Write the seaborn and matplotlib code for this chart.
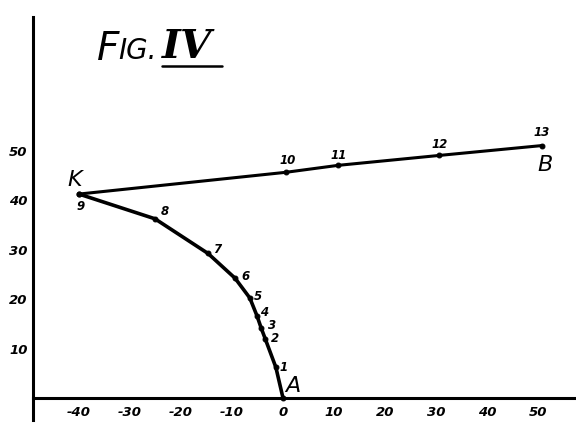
import matplotlib
matplotlib.use("Agg")
import matplotlib.pyplot as plt
import seaborn as sns
import pandas as pd

# data
curve_labels = ["A", "1", "2", "3", "4", "5", "6", "7", "8", "9"]
curve_x = [0.0, -1.4, -3.5, -4.3, -5.1, -6.5, -9.4, -14.7, -25.1, -40.0]
curve_y = [0.0, 6.2, 12.0, 14.2, 16.6, 20.2, 24.2, 29.2, 36.2, 41.2]

line_labels = ["9", "10", "11", "12", "13"]
line_x = [-40.0, 0.6, 10.8, 30.6, 50.8]
line_y = [41.2, 45.6, 47.0, 49.0, 51.0]

xticks = [-40, -30, -20, -10, 0, 10, 20, 30, 40, 50]
yticks = [10, 20, 30, 40, 50]

sns.set_theme(style="white")
plt.rcParams["font.family"] = ["DejaVu Sans"]
plt.rcParams["text.color"] = "black"
plt.rcParams["xtick.color"] = "black"
plt.rcParams["ytick.color"] = "black"

fig = plt.figure(figsize=(5.76, 4.23), dpi=100)
ax = fig.add_axes([0, 0, 1, 1])

curve = pd.DataFrame({"x": curve_x, "y": curve_y})
upper = pd.DataFrame({"x": line_x, "y": line_y})
sns.lineplot(data=curve, x="x", y="y", sort=False, color="black", lw=2.6,
             marker="o", markersize=3.5, markeredgecolor="black", ax=ax)
sns.lineplot(data=upper, x="x", y="y", sort=False, color="black", lw=2.2,
             marker="o", markersize=3.5, markeredgecolor="black", ax=ax)

ax.set_xlim(-283 / 5.1, (576 - 283) / 5.1)
ax.set_ylim(-25 / 4.95, 398 / 4.95)

for s in ["top", "right"]:
    ax.spines[s].set_visible(False)
ax.spines["left"].set_position(("data", -49))
ax.spines["left"].set_bounds(-4.4, 77)
ax.spines["bottom"].set_position(("data", 0))
ax.spines["bottom"].set_bounds(-49, 57.5)
for s in ["left", "bottom"]:
    ax.spines[s].set_linewidth(2.2)
    ax.spines[s].set_color("black")

ax.set_xticks(xticks)
ax.set_xticklabels([str(t) for t in xticks], fontstyle="italic", fontweight="bold", fontsize=9.5)
ax.set_yticks(yticks)
ax.set_yticklabels([str(t) for t in yticks], fontstyle="italic", fontweight="bold", fontsize=9.5)
ax.tick_params(axis="x", length=0, pad=6)
ax.tick_params(axis="y", length=0, pad=4)
ax.set_xlabel("")
ax.set_ylabel("")
ax.grid(False)

# point number labels (offsets in pixels)
curve_off = {"1": (8, 0), "2": (10, 0), "3": (11, 2), "4": (7, 3), "5": (8, 2),
             "6": (10, 2), "7": (9, 4), "8": (10, 7), "9": (2, -12)}
for lab, x, y in zip(curve_labels, curve_x, curve_y):
    if lab in curve_off:
        ax.annotate(lab, (x, y), xytext=curve_off[lab], textcoords="offset pixels",
                    ha="center", va="center", fontsize=8.5, fontstyle="italic",
                    fontweight="bold")
line_off = {"10": (2, 12), "11": (1, 10), "12": (1, 11), "13": (0, 13)}
for lab, x, y in zip(line_labels, line_x, line_y):
    if lab in line_off:
        ax.annotate(lab, (x, y), xytext=line_off[lab], textcoords="offset pixels",
                    ha="center", va="center", fontsize=8.5, fontstyle="italic",
                    fontweight="bold")

big = dict(ha="center", va="center", fontsize=16, fontstyle="italic")
ax.annotate("K", (curve_x[-1], curve_y[-1]), xytext=(-4, 14), textcoords="offset pixels", **big)
ax.annotate("A", (curve_x[0], curve_y[0]), xytext=(10, 12), textcoords="offset pixels", **big)
ax.annotate("B", (line_x[-1], line_y[-1]), xytext=(3, -19), textcoords="offset pixels", **big)

# title
fig.text(0.168, 0.885, "F", fontsize=28, fontstyle="italic", ha="left", va="center")
fig.text(0.205, 0.880, "IG.", fontsize=20, fontstyle="italic", ha="left", va="center")
fig.text(0.282, 0.890, "IV", fontsize=29, fontstyle="italic", fontweight="bold",
         family="DejaVu Serif", ha="left", va="center")
fig.add_artist(plt.Line2D([0.282, 0.385], [0.843, 0.843], color="black", lw=1.8))

fig.savefig("out.png", dpi=100)
